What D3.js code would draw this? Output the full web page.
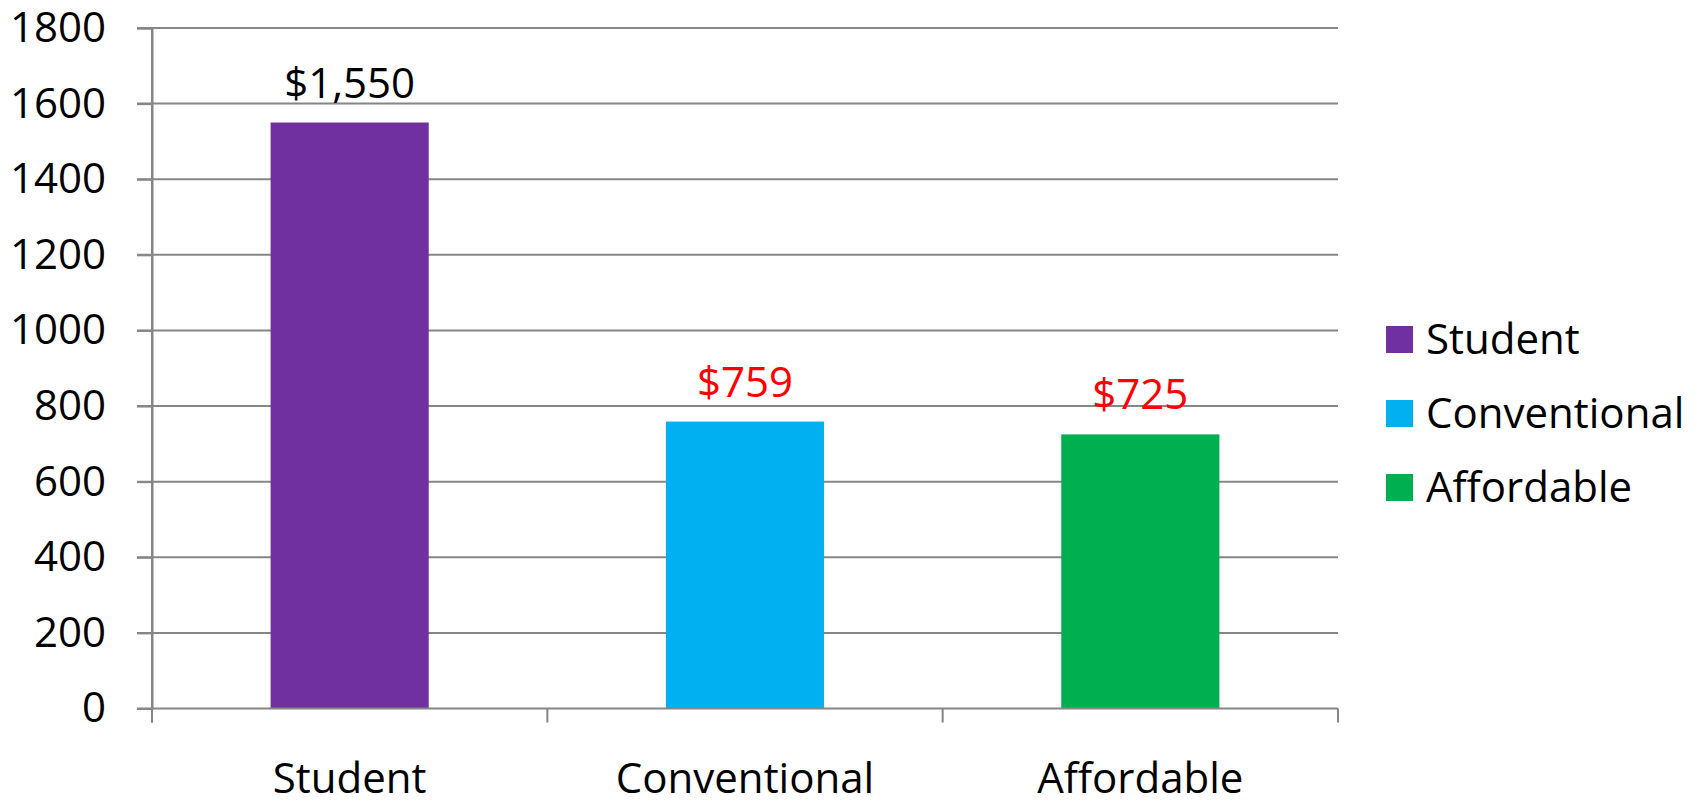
<!DOCTYPE html>
<html>
<head>
<meta charset="utf-8">
<script src="https://cdn.jsdelivr.net/npm/d3@7"></script>
<style>
  html, body { margin: 0; padding: 0; background: #fff; }
  text { font-family: "Open Sans", "Liberation Sans", sans-serif; }
</style>
</head>
<body>
<svg id="chart" width="1696" height="805"></svg>
<script>
const categories = ["Student", "Conventional", "Affordable"];
const values = [1550, 759, 725];
const labels = ["$1,550", "$759", "$725"];
const labelColors = ["#000000", "#FF0000", "#FF0000"];
const colors = ["#7030A0", "#00B0F0", "#00B050"];
const yTicks = [0, 200, 400, 600, 800, 1000, 1200, 1400, 1600, 1800];

const svg = d3.select("#chart");
const margin = { left: 152, right: 1338, top: 28, bottom: 708.5 };
const fontSize = 42;
const gridColor = "#868686";

const x = d3.scaleBand().domain(categories).range([margin.left, margin.right]).paddingInner(0).paddingOuter(0);
const y = d3.scaleLinear().domain([0, 1800]).range([margin.bottom, margin.top]);

// gridlines
svg.append("g").selectAll("line").data(yTicks.filter(d => d > 0)).join("line")
  .attr("x1", margin.left - 15).attr("x2", margin.right)
  .attr("y1", d => y(d)).attr("y2", d => y(d))
  .attr("stroke", gridColor).attr("stroke-width", 2);

// y axis
const yAxis = d3.axisLeft(y).tickValues(yTicks).tickSize(15).tickPadding(31).tickFormat(d3.format("d"));
const gy = svg.append("g").attr("transform", `translate(${margin.left},0)`).call(yAxis);
gy.select(".domain").attr("stroke", gridColor).attr("stroke-width", 2);
gy.selectAll(".tick line").attr("stroke", gridColor).attr("stroke-width", 2);
gy.selectAll(".tick text").attr("font-size", fontSize).attr("fill", "#000")
  .attr("font-family", "'Open Sans', sans-serif");

// bars
const barW = x.bandwidth() * 0.4;
svg.append("g").selectAll("rect").data(values).join("rect")
  .attr("x", (d, i) => x(categories[i]) + (x.bandwidth() - barW) / 2)
  .attr("width", barW)
  .attr("y", d => y(d))
  .attr("height", d => y(0) - y(d))
  .attr("fill", (d, i) => colors[i]);

// x axis
const xAxis = d3.axisBottom(x).tickSize(0).tickPadding(55);
const gx = svg.append("g").attr("transform", `translate(0,${margin.bottom})`).call(xAxis);
gx.select(".domain").remove();
gx.append("line").attr("x1", margin.left - 15).attr("x2", margin.right)
  .attr("y1", 0).attr("y2", 0).attr("stroke", gridColor).attr("stroke-width", 2);
const bounds = [margin.left, ...categories.map(c => x(c) + x.bandwidth())];
gx.selectAll(".cattick").data(bounds).join("line").attr("class", "cattick")
  .attr("x1", d => d).attr("x2", d => d).attr("y1", 0).attr("y2", 14)
  .attr("stroke", gridColor).attr("stroke-width", 2);
gx.selectAll(".tick text").attr("font-size", fontSize).attr("fill", "#000")
  .attr("font-family", "'Open Sans', sans-serif");

// y axis line full extent
svg.append("line").attr("x1", margin.left).attr("x2", margin.left)
  .attr("y1", margin.top).attr("y2", margin.bottom + 14)
  .attr("stroke", gridColor).attr("stroke-width", 2);

// data labels
svg.append("g").selectAll("text").data(values).join("text")
  .attr("x", (d, i) => x(categories[i]) + x.bandwidth() / 2)
  .attr("y", d => y(d) - 25)
  .attr("text-anchor", "middle")
  .attr("font-size", fontSize)
  .attr("fill", (d, i) => labelColors[i])
  .text((d, i) => labels[i]);

// legend
const leg = svg.append("g").attr("transform", "translate(1386,326)");
const item = leg.selectAll("g").data(categories).join("g")
  .attr("transform", (d, i) => `translate(0,${i * 74})`);
item.append("rect").attr("width", 27).attr("height", 27).attr("fill", (d, i) => colors[i]);
item.append("text").attr("x", 40).attr("y", 13.5).attr("dy", "0.35em")
  .attr("font-size", fontSize).attr("fill", "#000").text(d => d);
</script>
</body>
</html>
